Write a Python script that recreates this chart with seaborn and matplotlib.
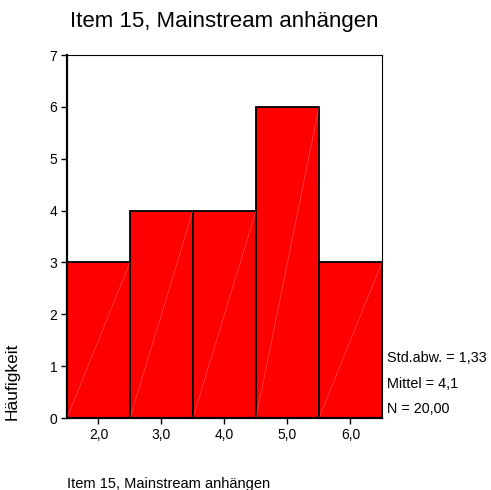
import matplotlib
matplotlib.use("Agg")
import matplotlib.pyplot as plt
import seaborn as sns
import pandas as pd

values = [2.0, 3.0, 4.0, 5.0, 6.0]
counts = [3, 4, 4, 6, 3]
x_tick_labels = ["2,0", "3,0", "4,0", "5,0", "6,0"]
y_ticks = [0, 1, 2, 3, 4, 5, 6, 7]
title = "Item 15, Mainstream anhängen"
x_label = "Item 15, Mainstream anhängen"
y_label = "Häufigkeit"
stats_lines = ["Std.abw. = 1,33", "Mittel = 4,1", "N = 20,00"]

sns.set_theme(style="white")
plt.rcParams["font.family"] = ["Liberation Sans", "DejaVu Sans"]
plt.rcParams["text.color"] = "black"

df = pd.DataFrame({"value": values, "count": counts})

fig = plt.figure(figsize=(4.91, 4.90), dpi=100)
ax = fig.add_axes([67/491, 72/490, 315/491, 363/490])

sns.histplot(data=df, x="value", weights="count", discrete=True,
             color="#ff0000", alpha=1, edgecolor="black", linewidth=1.3, ax=ax)

# faint white diagonal in each bar (rendering artifact of the original)
for p in list(ax.patches):
    x0, w, h = p.get_x(), p.get_width(), p.get_height()
    ax.plot([x0, x0 + w], [0, h], color="white", lw=0.5, alpha=0.3, zorder=p.get_zorder() + 0.1)

ax.set_xlim(1.5, 6.5)
ax.set_ylim(0, 7)
ax.set_xticks(values)
ax.set_xticklabels(x_tick_labels)
ax.set_yticks(y_ticks)
ax.set_yticklabels([str(t) for t in y_ticks])
ax.tick_params(axis="both", direction="out", length=4, width=1, labelsize=10,
               colors="black", bottom=True, left=True, pad=3)
ax.set_xlabel("")
ax.set_ylabel("")

for side in ["left", "bottom"]:
    ax.spines[side].set_linewidth(1.6)
    ax.spines[side].set_color("black")
for side in ["top", "right"]:
    ax.spines[side].set_linewidth(0.8)
    ax.spines[side].set_color("black")
    ax.spines[side].set_visible(True)

fig.text(224/491, 1 - 22/490, title, ha="center", va="center", fontsize=16, color="black")
fig.text(67/491, 1 - 484/490, x_label, ha="left", va="center", fontsize=10.5, color="black")
fig.text(12/491, 1 - 381/490, y_label, ha="center", va="center", rotation=90, fontsize=12.5, color="black")
for i, line in enumerate(stats_lines):
    fig.text(387/491, 1 - (358 + 25.5*i)/490, line, ha="left", va="center", fontsize=10.4, color="black")

fig.savefig("out.png", dpi=100, facecolor="white")
